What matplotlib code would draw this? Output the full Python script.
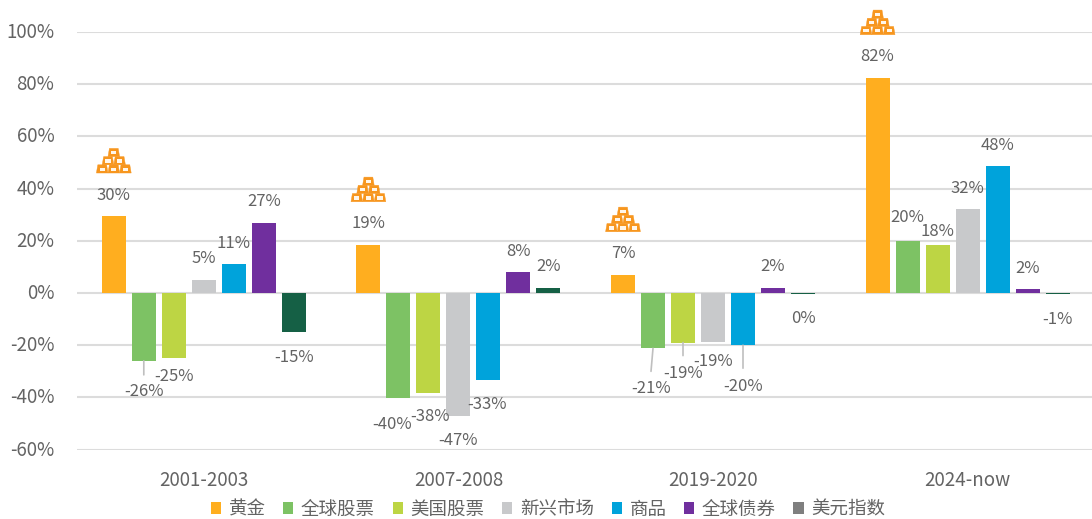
import matplotlib

matplotlib.use("Agg")
import matplotlib.pyplot as plt
import numpy as np
from matplotlib.patches import Patch, Polygon, Rectangle
from matplotlib.transforms import Affine2D, ScaledTranslation

plt.rcParams["font.family"] = ["Noto Sans CJK SC", "DejaVu Sans"]

# --- data -------------------------------------------------------------------

periods = ["2001-2003", "2007-2008", "2019-2020", "2024-now"]
series_names = ["黄金", "全球股票", "美国股票", "新兴市场", "商品", "全球债券", "美元指数"]

gold = [29.5, 18.5, 7, 82.5]
global_equity = [-26, -40.3, -21.2, 20]
us_equity = [-25, -38.3, -19, 18.5]
emerging = [5, -47, -18.7, 32]
commodities = [11, -33.3, -20, 48.5]
global_bonds = [27, 8, 2, 1.5]
usd_index = [-15, 2, -0.3, -0.5]

gold_labels = ["30%", "19%", "7%", "82%"]
global_equity_labels = ["-26%", "-40%", "-21%", "20%"]
us_equity_labels = ["-25%", "-38%", "-19%", "18%"]
emerging_labels = ["5%", "-47%", "-19%", "32%"]
commodities_labels = ["11%", "-33%", "-20%", "48%"]
global_bonds_labels = ["27%", "8%", "2%", "2%"]
usd_index_labels = ["-15%", "2%", "0%", "-1%"]

# --- style ------------------------------------------------------------------

colors = ["#FFAE1F", "#7DC264", "#BDD544", "#C8C9CB", "#00A3DB", "#702F9E", "#156045"]
USD_LEGEND_COLOR = "#7F7F7F"
TEXT_COLOR = "#636363"
GRID_COLOR = "#DCDCDC"
ICON_COLOR = "#F7961E"

W, H = 1092, 519
Y0_PX, Y100_PX = 293, 32
PX_PER_PCT = (Y0_PX - Y100_PX) / 100
GROUP_PX = 254.6
BAR_STEP = 30 / GROUP_PX
BAR_W = 24 / GROUP_PX
LEFT_PX = 76.5

# (group, series) -> (dx, dy) label nudge in px from the default spot, y up
label_nudge = {
    (0, 1): (0, -6),
    (0, 2): (0, 7),
    (1, 1): (-6, -1),
    (1, 2): (2, 1),
    (1, 4): (-1, 0),
    (2, 1): (-2, -15),
    (2, 2): (0, -6),
    (2, 3): (0, 5),
    (2, 4): (0, -16),
    (2, 6): (0, 0),
    (3, 1): (0, 2),
    (3, 2): (0, -8),
}
# (group, series) -> leader line length in px
leaders = {(0, 1): 14, (2, 1): 23, (2, 2): 13, (2, 4): 23}


def draw_gold_icon(ax, x_disp, y_disp):
    """Stack of six gold bars; origin is the bottom centre, in display px."""
    tr = Affine2D().translate(x_disp, y_disp)
    bw, bh = 11.6, 8.2
    slots = [(-bw, 0), (0, 0), (bw, 0), (-bw / 2, bh), (bw / 2, bh), (0, 2 * bh)]
    for cx, by in slots:
        ax.add_patch(Polygon(
            [(cx - bw / 2, by), (cx + bw / 2, by), (cx + bw / 2 - 1.4, by + bh), (cx - bw / 2 + 1.4, by + bh)],
            closed=True, fc=ICON_COLOR, ec=ICON_COLOR, lw=0.3, transform=tr, clip_on=False, zorder=6,
        ))
        ax.add_patch(Rectangle(
            (cx - 2.6, by + 2.2), 5.2, 3.2, fc="#FFF6EA", ec="none", transform=tr, clip_on=False, zorder=7,
        ))


fig = plt.figure(figsize=(W / 100, H / 100), dpi=100)
ax = fig.add_axes([
    LEFT_PX / W,
    1 - (Y0_PX + 60 * PX_PER_PCT) / H,
    4 * GROUP_PX / W,
    160 * PX_PER_PCT / H,
])

series = [gold, global_equity, us_equity, emerging, commodities, global_bonds, usd_index]
labels = [gold_labels, global_equity_labels, us_equity_labels, emerging_labels,
          commodities_labels, global_bonds_labels, usd_index_labels]
x = np.arange(len(periods))

for j, vals in enumerate(series):
    xs = x + (j - 3) * BAR_STEP
    ax.bar(xs, vals, BAR_W, color=colors[j], edgecolor="none", zorder=3)
    for g, (xi, v) in enumerate(zip(xs, vals)):
        dx, dy = label_nudge.get((g, j), (0, 0))
        base = 21 if v >= 0 else -25
        off = (dx, base + dy)
        ax.annotate(labels[j][g], (xi, v), xytext=(off[0] * 0.72, off[1] * 0.72),
                    textcoords="offset points", ha="center", va="center",
                    fontsize=12, color=TEXT_COLOR, zorder=5)
        if (g, j) in leaders:
            ax.annotate("", (xi, v), xytext=(dx * 0.72, -leaders[(g, j)] * 0.72),
                        textcoords="offset points",
                        arrowprops=dict(arrowstyle="-", color="#BFBFBF", lw=1.2, shrinkA=0, shrinkB=0),
                        zorder=4)

ax.set_xlim(-0.5, 3.5)
ax.set_ylim(-60, 100)
ax.set_yticks(np.arange(-60, 101, 20))
ax.set_yticklabels([f"{t}%" for t in range(-60, 101, 20)])
ax.set_xticks(x)
ax.set_xticklabels(periods)
ax.tick_params(axis="y", length=0, pad=16, labelsize=13.5, labelcolor=TEXT_COLOR)
ax.tick_params(axis="x", length=0, pad=14.5, labelsize=13.5, labelcolor=TEXT_COLOR)
# y tick labels sit a little high against the grid in the original
up = ScaledTranslation(0, 1.5 / 72, fig.dpi_scale_trans)
for lab in ax.get_yticklabels():
    lab.set_transform(lab.get_transform() + up)
ax.grid(axis="y", color=GRID_COLOR, lw=1.5, zorder=0)
ax.set_axisbelow(True)
for s in ax.spines.values():
    s.set_visible(False)

# the gold icon sits a fixed distance above each gold bar
ICON_GAP_PX = 43
for g, v in enumerate(gold):
    xd, yd = ax.transData.transform((x[g] - 3 * BAR_STEP, v))
    draw_gold_icon(ax, xd, yd + ICON_GAP_PX)

legend_colors = colors[:-1] + [USD_LEGEND_COLOR]
handles = [Patch(fc=c, ec="none") for c in legend_colors]
fig.legend(
    handles, series_names, loc="center", bbox_to_anchor=(548 / W, 1 - 509.5 / H), ncol=7,
    frameon=False, fontsize=13.3, labelcolor=TEXT_COLOR, handlelength=0.55, handleheight=0.55,
    handletextpad=0.42, columnspacing=0.95, borderpad=0, borderaxespad=0,
)

fig.savefig("out.png", dpi=100)
